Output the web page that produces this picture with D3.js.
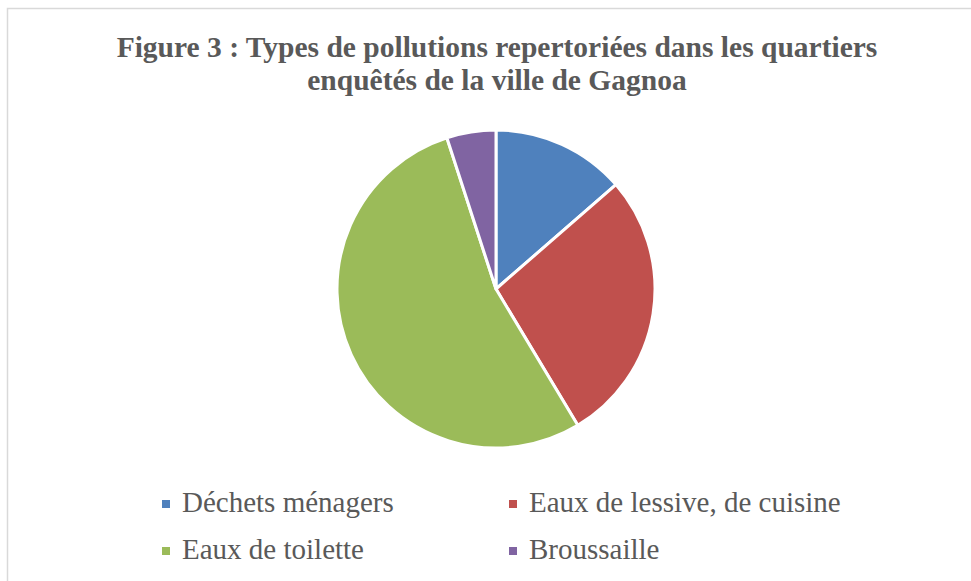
<!DOCTYPE html>
<html>
<head>
<meta charset="utf-8">
<script src="https://cdn.jsdelivr.net/npm/d3@7"></script>
<style>
  body { margin: 0; background: #fff; }
  text { font-family: "Liberation Serif", "Times New Roman", serif; }
</style>
</head>
<body>
<div id="viz"></div>
<script>
const width = 971;
const height = 581;

const categories = ['Déchets ménagers', 'Eaux de lessive, de cuisine', 'Eaux de toilette', 'Broussaille'];
const values = [13.6, 27.8, 53.6, 5.0];
const colors = ['#4F81BD', '#C0504D', '#9BBB59', '#8064A2'];
const titleLines = ['Figure 3 : Types de pollutions repertoriées dans les quartiers', 'enquêtés de la ville de Gagnoa'];

const cx = 496, cy = 289, radius = 159;

const svg = d3.select('#viz')
  .append('svg')
  .attr('width', width)
  .attr('height', height);

// chart frame
svg.append('rect')
  .attr('x', 7.5)
  .attr('y', 8.5)
  .attr('width', width + 10)
  .attr('height', height + 10)
  .attr('fill', '#fff')
  .attr('stroke', '#d9d9d9')
  .attr('stroke-width', 1.5);

svg.append('g')
  .selectAll('text')
  .data(titleLines)
  .join('text')
    .attr('x', 497)
    .attr('y', (d, i) => 57 + i * 33)
    .attr('text-anchor', 'middle')
    .attr('font-size', 29.5)
    .attr('font-weight', 'bold')
    .attr('fill', '#595959')
    .text(d => d);

const pie = d3.pie().sort(null).value(d => d);
const arc = d3.arc().innerRadius(0).outerRadius(radius);

svg.append('g')
  .attr('transform', `translate(${cx}, ${cy})`)
  .selectAll('path')
  .data(pie(values))
  .join('path')
    .attr('d', arc)
    .attr('fill', (d, i) => colors[i])
    .attr('stroke', '#fff')
    .attr('stroke-width', 3)
    .attr('stroke-linejoin', 'round');

// legend, two columns
const colX = [162, 509];
const rowY = [512, 559];
const legend = svg.append('g')
  .selectAll('g')
  .data(categories)
  .join('g')
    .attr('transform', (d, i) => `translate(${colX[i % 2]}, ${rowY[Math.floor(i / 2)]})`);

legend.append('rect')
  .attr('x', 0)
  .attr('y', -12)
  .attr('width', 8)
  .attr('height', 8)
  .attr('fill', (d, i) => colors[i]);

legend.append('text')
  .attr('x', 20)
  .attr('y', 0)
  .attr('font-size', 29)
  .attr('fill', '#595959')
  .text(d => d);
</script>
</body>
</html>
